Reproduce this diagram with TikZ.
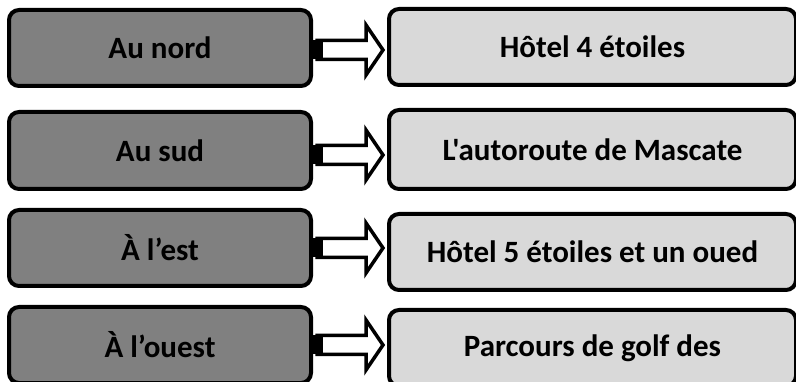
\documentclass[tikz,border=0pt]{standalone}
\usepackage{fontspec}
\setmainfont{Carlito}[Ligatures=TeXOff]
\usetikzlibrary{calc}
\definecolor{darkbox}{HTML}{808080}
\definecolor{lightbox}{HTML}{D9D9D9}
\tikzset{
  leftbox/.style={draw=black, line width=4pt, fill=darkbox, rounded corners=10pt,
    minimum width=302pt, minimum height=76pt, inner sep=0pt,
    font=\fontsize{31}{35}\selectfont\bfseries},
  rightbox/.style={draw=black, line width=4pt, fill=lightbox, rounded corners=10pt,
    minimum width=407pt, minimum height=76pt, inner sep=0pt,
    font=\fontsize{31}{35}\selectfont\bfseries},
  blockarrow/.style={draw=black, line width=3.5pt, fill=white, line join=miter},
  stub/.style={fill=black, draw=none}
}
\begin{document}
\begin{tikzpicture}[x=1pt, y=-1pt]
\useasboundingbox (0,0) rectangle (796,382);
\clip (0,0) rectangle (796,382);
\node[leftbox] (L1) at (160,48) {Au nord};
\node[leftbox, minimum height=77pt] (L2) at (160,150.5) {Au sud};
\node[leftbox] (L3) at (160,248) {À l’est};
\node[leftbox] (L4) at (160,345) {À l’ouest};
\node[rightbox] (R1) at (592.5,47) {Hôtel 4 étoiles};
\node[rightbox, minimum height=79pt] (R2) at (592.5,149.5) {L'autoroute de Mascate};
\node[rightbox] (R3) at (592.5,252) {Hôtel 5 étoiles et un oued};
\node[rightbox] (R4) at (592.5,348) {Parcours de golf des};
\foreach \a/\b/\dy in {L1/R1/2, L2/R2/4.5, L3/R3/0, L4/R4/0}{
  \draw[blockarrow] let \p1=(\a.east), \p2=(\b.west) in
    (\x1+4pt,\y1-\dy pt+9.5pt) -- (\x1+53pt,\y1-\dy pt+9.5pt) -- (\x1+53pt,\y1-\dy pt+25pt)
    -- (\x2-4pt,\y1-\dy pt) -- (\x1+53pt,\y1-\dy pt-25pt) -- (\x1+53pt,\y1-\dy pt-9.5pt)
    -- (\x1+4pt,\y1-\dy pt-9.5pt) -- cycle;
  \fill[stub] let \p1=(\a.east) in
    (\x1,\y1-\dy pt+9.5pt) rectangle (\x1+10pt,\y1-\dy pt-9.5pt);
}
\end{tikzpicture}
\end{document}
